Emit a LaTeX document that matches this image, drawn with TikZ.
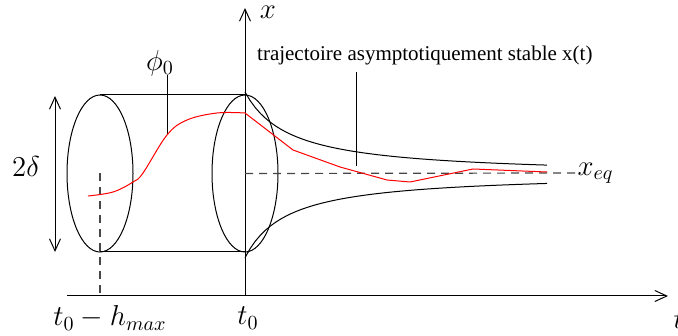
\documentclass[tikz,border=0pt]{standalone}
\usepackage[no-math]{fontspec}
\newfontfamily\trajfont{Liberation Serif}
\usetikzlibrary{arrows.meta}
\tikzset{
  lbl/.style={font=\fontsize{14}{17}\selectfont},
  txt/.style={font=\trajfont\fontsize{10.5}{12}\selectfont},
  guide/.style={gray!55!black, line width=0.6pt, dash pattern=on 4pt off 3pt},
  traj/.style={red, line width=0.5pt},
}
\begin{document}
\begin{tikzpicture}[x=0.5pt, y=0.5pt, line width=0.5pt, >={Straight Barb[length=6pt, width=5.5pt]}]
    \useasboundingbox (0,0) rectangle (678,336);
    % axis
    \coordinate (O) at (245,40);
    \coordinate (t0) at (67,40);
    \coordinate (t) at (668,40);
    \coordinate (x) at (245,328);
    \path[draw, ->](t0)to(t);
    \path[draw, ->](O)to(x);
    \node[lbl, anchor=west, inner sep=0pt] (tlab) at (673,16) {$t$};
    \node[lbl, inner sep=0pt] (xlab) at (268,324) {$x$};
    \node[lbl] (hlab) at (110,18) {$t_0 - h_{max}$};
    \node[lbl] (olab) at (248,18) {$t_0$};
    % tube
    \coordinate (c1) at (100,162.5);
    \coordinate (c2) at (245,162.5);
    \coordinate (top1) at (100,241);
    \coordinate (top2) at (245,241);
    \coordinate (bot1) at (100,84);
    \coordinate (bot2) at (245,84);
    \draw (c1) ellipse [x radius=33, y radius=78.5];
    \draw (c2) ellipse [x radius=33, y radius=78.5];
    \draw (top1) -- (top2);
    \draw (bot1) -- (bot2);
    % guides
    \coordinate (h) at (100,40);
    \coordinate (eq) at (575,163);
    \draw[guide] (c1) -- (h);
    \draw[guide] (c2) -- (eq);
    \node[lbl, anchor=west, inner sep=1pt] (eqlab) at (eq) {$x_{eq}$};
    % 2 delta
    \coordinate (d1) at (55,240);
    \coordinate (d2) at (55,84);
    \draw[<->] (d1) -- (d2);
    \node[lbl] (dlab) at (26,169) {$2\delta$};
    % phi_0
    \node[lbl] (phi) at (160,273) {$\phi_0$};
    \coordinate (phi-a) at (167,261);
    \coordinate (phi-b) at (167,201);
    \draw (phi-a) -- (phi-b);
    % trajectoire
    \node[txt, anchor=west] (traj) at (250,281) {trajectoire asymptotiquement stable x(t)};
    \coordinate (traj-a) at (356,264);
    \coordinate (traj-b) at (356,170);
    \draw (traj-a) -- (traj-b);
    % funnel
    \draw plot[domain=245:547, samples=60] (\x, {160+3780/(\x-200)});
    \draw plot[domain=245:547, samples=60] (\x, {163-3600/(\x-202.5)});
    % solution
    \draw[traj] plot[smooth, tension=0.6] coordinates {(88,140) (113,144) (133,154) (143,163) (167,201) (187,216) (217,223) (245,223)}
        -- (293,186) -- (340,169) -- (387,156) -- (410,154) -- (473,167) -- (547,164);
\end{tikzpicture}
\end{document}
